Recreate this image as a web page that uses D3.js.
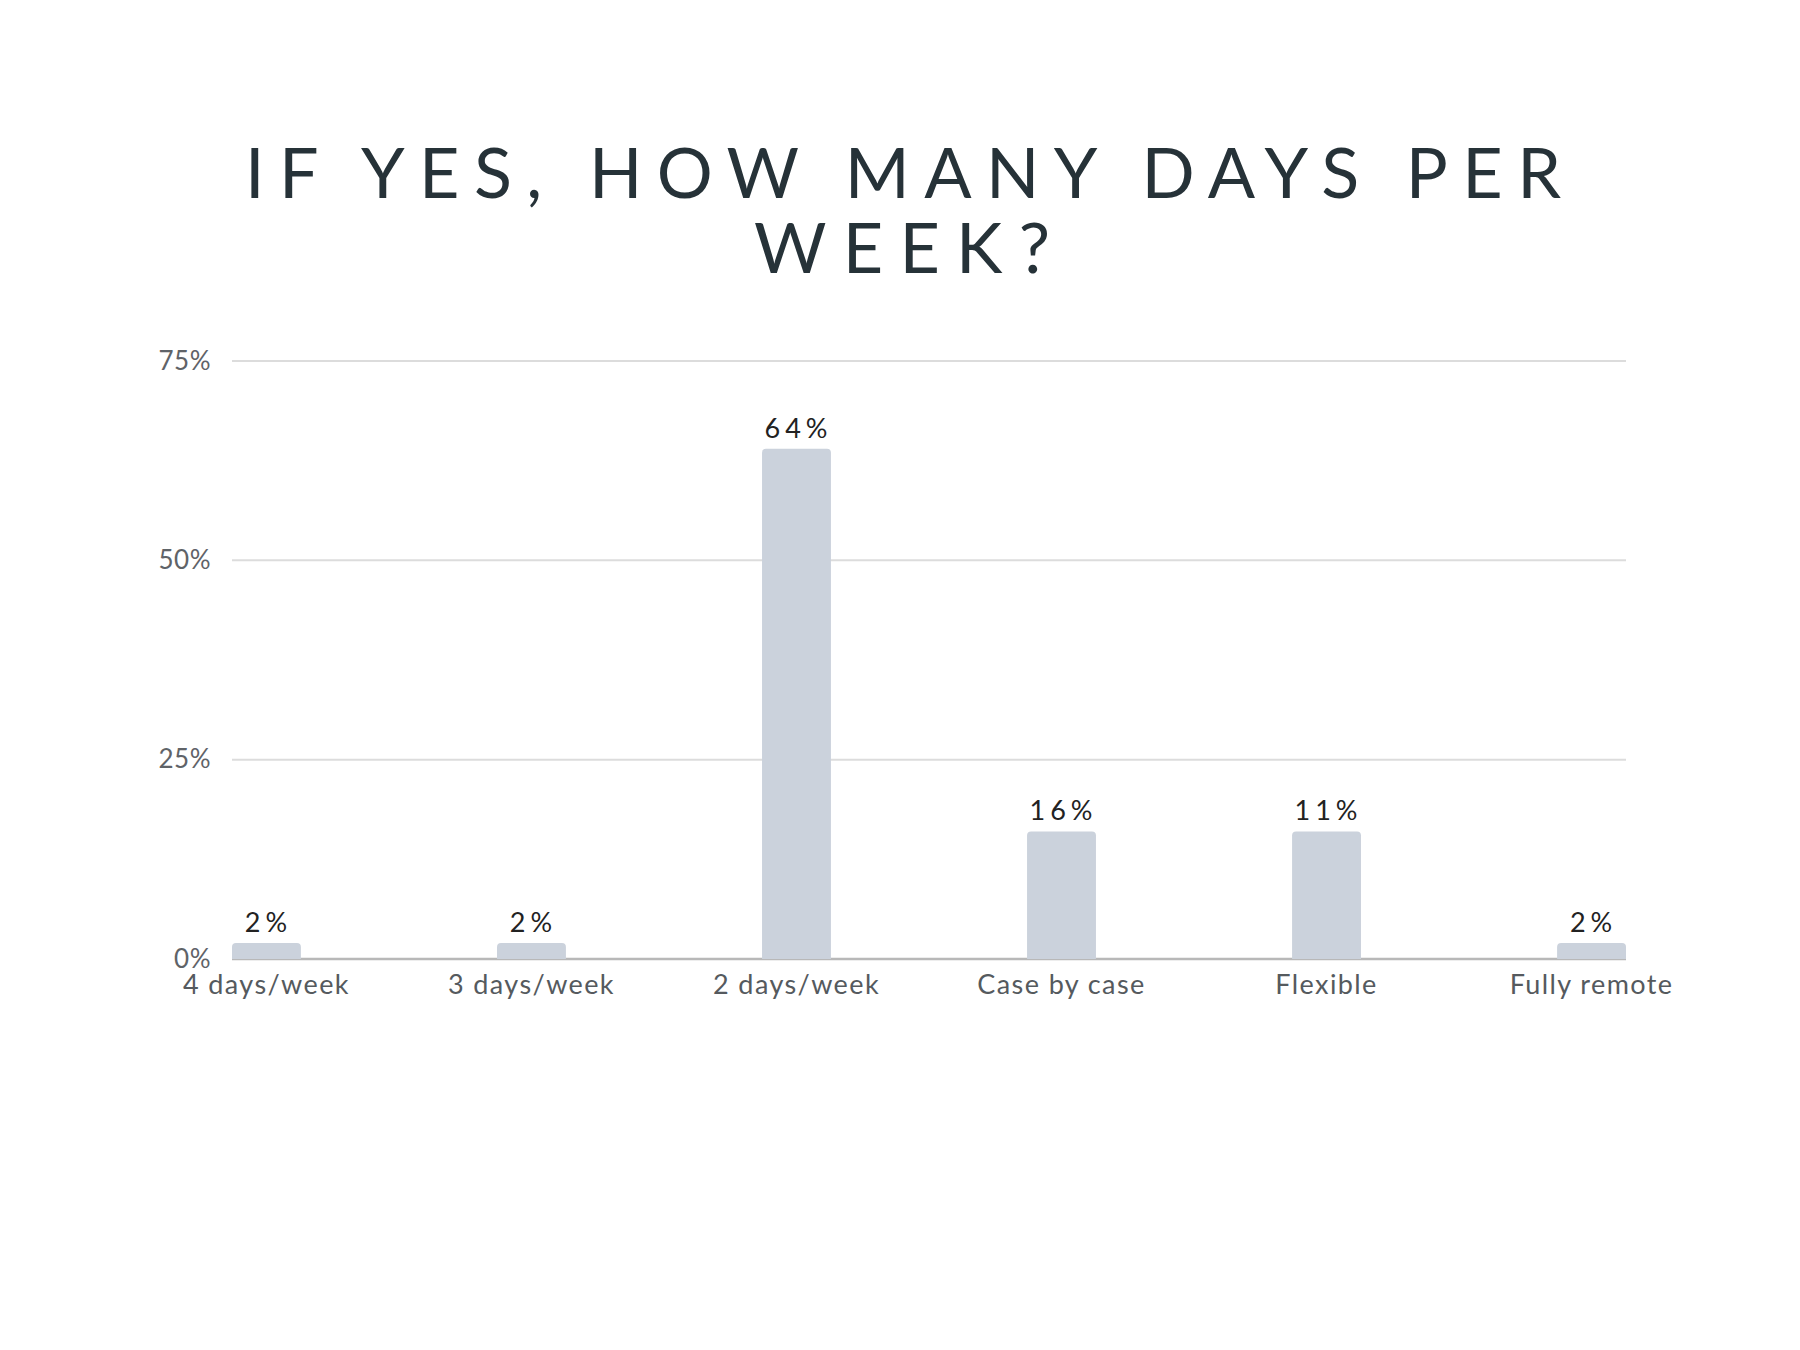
<!DOCTYPE html>
<html>
<head>
<meta charset="utf-8">
<script src="https://cdn.jsdelivr.net/npm/d3@7"></script>
<style>
  html, body { margin: 0; padding: 0; background: #ffffff; }
  svg { display: block; }
</style>
</head>
<body>
<svg id="chart" width="1800" height="1350"></svg>
<script>
const categories = ["4 days/week", "3 days/week", "2 days/week", "Case by case", "Flexible", "Fully remote"];
const values = [2, 2, 64, 16, 16, 2];
const valueLabels = ["2%", "2%", "64%", "16%", "11%", "2%"];
const yTicks = [0, 25, 50, 75];
const yTickLabels = ["0%", "25%", "50%", "75%"];
const titleLines = ["IF YES, HOW MANY DAYS PER", "WEEK?"];

(function () {
const W = 1800, H = 1350;
const svg = d3.select("#chart");
svg.append("rect").attr("width", W).attr("height", H).attr("fill", "#ffffff");

const font = "Lato, 'Open Sans', sans-serif";

// Title
const title = svg.append("text")
  .attr("x", 903)
  .attr("text-anchor", "middle")
  .attr("font-family", font)
  .attr("font-size", 70)
  .attr("font-weight", 400)
  .attr("fill", "#263238");
title.append("tspan").attr("x", 903).attr("y", 198)
  .attr("textLength", 1316).attr("lengthAdjust", "spacing").text(titleLines[0]);
title.append("tspan").attr("x", 902).attr("y", 273)
  .attr("textLength", 296).attr("lengthAdjust", "spacing").text(titleLines[1]);

const pLeft = 232, pRight = 1626, pTop = 361, pBottom = 959;

const x = d3.scaleBand().domain(categories).range([pLeft, pRight]).paddingInner(0.74).paddingOuter(0);
const y = d3.scaleLinear().domain([0, 75]).range([pBottom, pTop]);

// Gridlines
const grid = svg.append("g").attr("class", "grid");
grid.selectAll("line").data(yTicks.filter(d => d > 0)).join("line")
  .attr("x1", pLeft).attr("x2", pRight)
  .attr("y1", d => y(d)).attr("y2", d => y(d))
  .attr("stroke", "#dcdcdc").attr("stroke-width", 2);

// Y axis labels
const yAxis = d3.axisLeft(y).tickValues(yTicks).tickSize(0).tickPadding(0)
  .tickFormat((d, i) => yTickLabels[i]);
const yg = svg.append("g").attr("transform", `translate(${pLeft - 21},0)`).call(yAxis);
yg.select(".domain").remove();
yg.selectAll("text")
  .attr("font-family", font).attr("font-size", 26)
  .attr("letter-spacing", "0.5px")
  .attr("fill", "#5f6368");

// Baseline
svg.append("line")
  .attr("x1", pLeft).attr("x2", pRight)
  .attr("y1", y(0)).attr("y2", y(0))
  .attr("stroke", "#b8b8b8").attr("stroke-width", 2.5);

// Bars with rounded tops
const r = 4;
svg.append("g").selectAll("path").data(categories).join("path")
  .attr("d", (c, i) => {
    const x0 = x(c), w = x.bandwidth(), y0 = y(values[i]), yb = y(0);
    const rr = Math.min(r, (yb - y0) / 2);
    return `M${x0},${yb} L${x0},${y0 + rr} Q${x0},${y0} ${x0 + rr},${y0} L${x0 + w - rr},${y0} Q${x0 + w},${y0} ${x0 + w},${y0 + rr} L${x0 + w},${yb} Z`;
  })
  .attr("fill", "#cbd2dc");

// Value labels
svg.append("g").selectAll("text").data(categories).join("text")
  .attr("x", c => x(c) + x.bandwidth() / 2 + 2)
  .attr("y", (c, i) => y(values[i]) - 11)
  .attr("text-anchor", "middle")
  .attr("font-family", font).attr("font-size", 27)
  .attr("letter-spacing", "5px")
  .attr("fill", "#222222")
  .text((c, i) => valueLabels[i]);

// X axis labels
const xAxis = d3.axisBottom(x).tickSize(0).tickPadding(0);
const xg = svg.append("g").attr("transform", `translate(0,${pBottom})`).call(xAxis);
xg.select(".domain").remove();
xg.selectAll("text")
  .attr("dy", 0).attr("y", 35)
  .attr("font-family", font).attr("font-size", 27)
  .attr("letter-spacing", "1.4px")
  .attr("fill", "#555a5e");
})();
</script>
</body>
</html>
